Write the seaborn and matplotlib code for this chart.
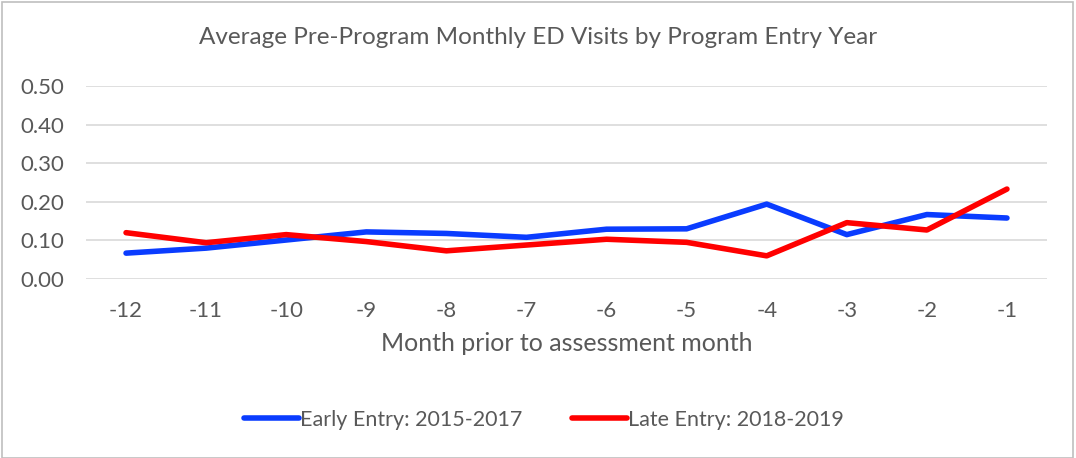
import pandas as pd
import matplotlib.pyplot as plt
import seaborn as sns
from matplotlib.patches import Rectangle

months = [-12, -11, -10, -9, -8, -7, -6, -5, -4, -3, -2, -1]
early_entry = [0.067, 0.080, 0.101, 0.122, 0.118, 0.108, 0.129, 0.130, 0.194, 0.115, 0.167, 0.158]
late_entry = [0.120, 0.094, 0.115, 0.097, 0.073, 0.088, 0.103, 0.095, 0.060, 0.146, 0.127, 0.233]
series_names = ["Early Entry: 2015-2017", "Late Entry: 2018-2019"]
y_ticks = [0.0, 0.1, 0.2, 0.3, 0.4, 0.5]

df = pd.DataFrame({
    "Month": months * 2,
    "Visits": early_entry + late_entry,
    "Series": [series_names[0]] * len(months) + [series_names[1]] * len(months),
})

sns.set_theme(style="white")
plt.rcParams["font.family"] = ["Lato", "DejaVu Sans"]
text_color = "#595959"
colors = ["#0A3CFF", "#FF0000"]

fig = plt.figure(figsize=(10.76, 4.58), dpi=100)
ax = fig.add_axes([86 / 1076, 1 - 279 / 458, (1047 - 86) / 1076, (279 - 86) / 458])

sns.lineplot(
    data=df, x="Month", y="Visits", hue="Series", hue_order=series_names,
    palette=colors, linewidth=4.0, ax=ax, legend=False,
    solid_capstyle="round",
)

ax.set_xlim(-12.5, -0.5)
ax.set_ylim(0, 0.5)
ax.set_xticks(months)
ax.set_xticklabels([str(m) for m in months])
ax.set_yticks(y_ticks)
ax.set_yticklabels([f"{v:.2f}" for v in y_ticks])
ax.yaxis.grid(True, color="#D9D9D9", linewidth=1.2)
ax.xaxis.grid(False)
ax.set_axisbelow(True)
for s in ax.spines.values():
    s.set_visible(False)
ax.tick_params(axis="both", length=0, labelsize=16, colors=text_color)
ax.tick_params(axis="x", pad=16)
ax.tick_params(axis="y", pad=16)
ax.set_xlabel("Month prior to assessment month", fontsize=18, color=text_color, labelpad=8)
ax.set_ylabel("")

fig.text(0.5, 1 - 37 / 458, "Average Pre-Program Monthly ED Visits by Program Entry Year",
         ha="center", va="center", fontsize=17.5, color=text_color)

# legend below the plot, centred like the original
handles = [plt.Line2D([], [], color=c, linewidth=4.0, solid_capstyle="round") for c in colors]
fig.legend(handles, series_names, loc="center", bbox_to_anchor=(0.5 + 6 / 1076, 1 - 420 / 458),
           ncol=2, frameon=False, fontsize=15.5, labelcolor=text_color,
           handlelength=2.55, handletextpad=0.05, columnspacing=2.3)

fig.patches.append(Rectangle((2 / 1076, 0), 1 - 5 / 1076, 1 - 1.5 / 458,
                             transform=fig.transFigure, fill=False,
                             edgecolor="#BFBFBF", linewidth=1.2))

plt.savefig("out.png", dpi=100)
plt.close()
